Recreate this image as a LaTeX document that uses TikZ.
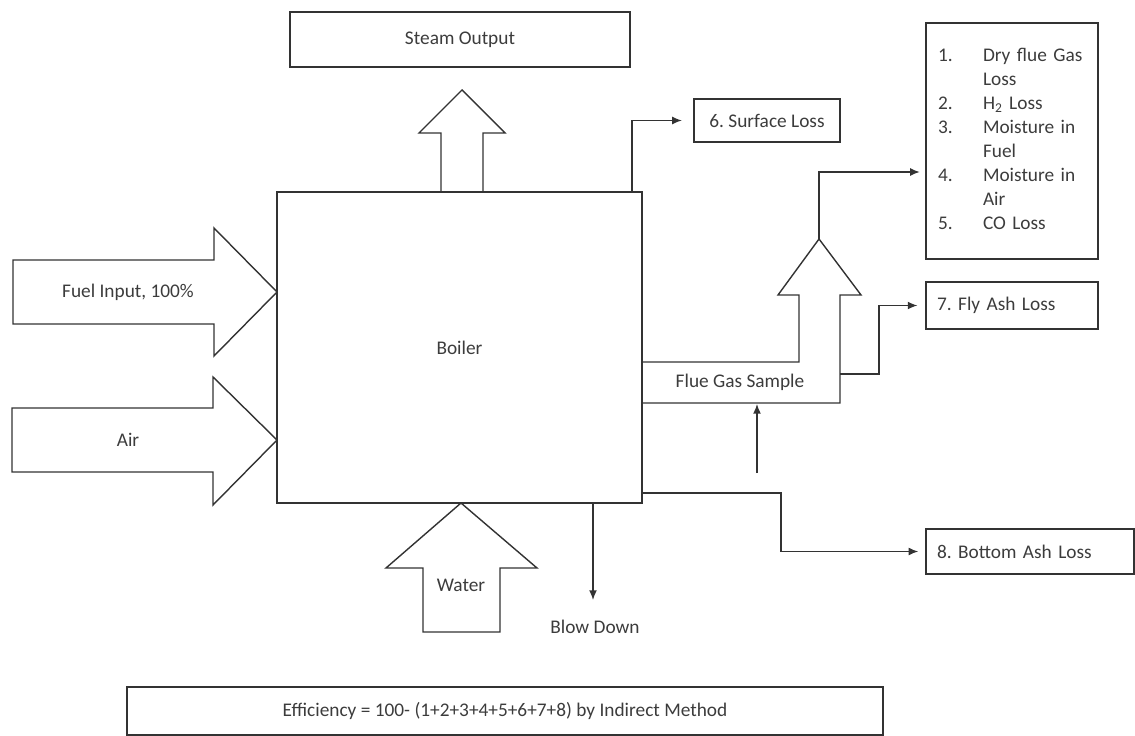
\documentclass[tikz,border=0pt]{standalone}
\usepackage{fontspec}
\setmainfont{Carlito}
\usetikzlibrary{arrows.meta}
\definecolor{lineGray}{HTML}{333333}
\definecolor{textGray}{HTML}{3C3C3C}
\frenchspacing

\tikzset{
  box/.style={draw=lineGray, line width=0.8pt, text=textGray, inner sep=0pt},
  leftbox/.style={box, align=left},
  flow/.style={draw=lineGray, line width=0.8pt, -{Latex[length=5.5pt,width=4.5pt]}},
  bigarrow/.style={draw=lineGray, line width=0.8pt},
  lbl/.style={text=textGray}
}

\begin{document}
\begin{tikzpicture}[x=0.02cm, y=-0.02cm, font=\fontsize{11}{13.66}\selectfont]
    \useasboundingbox (0,0) rectangle (1135,736);

    \node[box, minimum width=7.3cm, minimum height=6.22cm] (boiler) at (459.5,347.5) {Boiler};
    \node[box, minimum width=6.8cm, minimum height=1.1cm] (steam) at (460,39.5) {Steam Output};
    \node[box, minimum width=2.92cm, minimum height=0.86cm] (surface) at (767,120.5) {6. Surface Loss};
    \node[leftbox, text width=2.96cm, inner xsep=0.24cm, minimum height=4.72cm] (losses) at (1012,141) {%
      \begin{tabular}{@{}p{0.9cm}@{}l@{}}
        1. & Dry flue Gas\\
           & Loss\\
        2. & H\textsubscript{2} Loss\\
        3. & Moisture in\\
           & Fuel\\
        4. & Moisture in\\
           & Air\\
        5. & CO Loss
      \end{tabular}};
    \node[leftbox, text width=3.0cm, inner xsep=0.22cm, minimum height=0.94cm] (flyash) at (1012,305.5) {7. Fly Ash Loss};
    \node[leftbox, text width=3.72cm, inner xsep=0.22cm, minimum height=0.9cm] (bottomash) at (1030,551.5) {8. Bottom Ash Loss};
    \node[box, minimum width=15.12cm, minimum height=0.96cm] (efficiency) at (505,711) {Efficiency = 100- (1+2+3+4+5+6+7+8) by Indirect Method};

    \draw[bigarrow] (13,260) -- (214,260) -- (214,228) -- (277,292) -- (214,356) -- (214,324) -- (13,324) -- cycle;
    \node[lbl] (fuel) at (128,292) {Fuel Input, 100\%};

    \draw[bigarrow] (12,408) -- (213,408) -- (213,377) -- (277,440) -- (213,505) -- (213,472) -- (12,472) -- cycle;
    \node[lbl] (air) at (128,440) {Air};

    \draw[bigarrow] (423,632) -- (423,568) -- (386,568) -- (461,503) -- (537,568) -- (500,568) -- (500,632) -- cycle;
    \node[lbl] (water) at (461,585) {Water};

    \draw[bigarrow] (441,192) -- (441,133) -- (419,133) -- (462,90) -- (505,133) -- (483,133) -- (483,192);

    \draw[bigarrow] (642,362) -- (799,362) -- (799,295) -- (778,295) -- (819,239) -- (861,295) -- (840,295) -- (840,403) -- (642,403);
    \node[lbl] (fluegas) at (740,382) {Flue Gas Sample};

    \coordinate (surfout) at (632,192);
    \coordinate (fgtip) at (819,239);
    \coordinate (lossin) at (926,172);
    \coordinate (ashout) at (840,374);
    \coordinate (btmout) at (642,493);
    \coordinate (blowout) at (593,503);
    \coordinate (sampin) at (757,473);
    \coordinate (fgbot) at (642,404);

    \draw[flow, shorten >=6.5pt] (surfout) |- (surface.west);
    \draw[flow, shorten >=3.5pt] (fgtip) |- (lossin);
    \draw[flow, shorten >=4.5pt] (ashout) -- ++(39,0) |- (flyash.west);
    \draw[flow, shorten >=4pt] (btmout) -- ++(139,0) |- (bottomash.west);

    \node[lbl] (blowdown) at (595,627) {Blow Down};
    \draw[flow, shorten >=8pt] (blowout) -- (blowout |- blowdown.north);
    \draw[flow] (sampin) -- (sampin |- fgbot);
\end{tikzpicture}
\end{document}
